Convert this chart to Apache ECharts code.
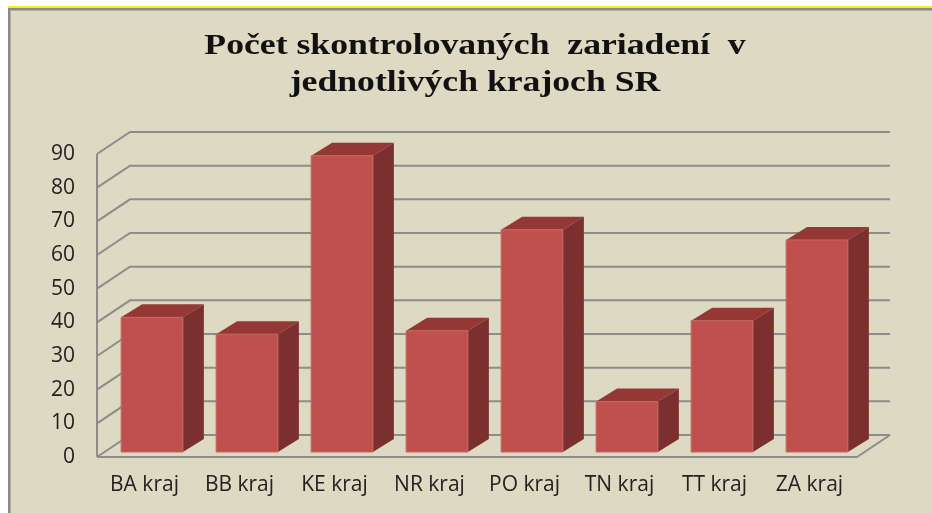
<!DOCTYPE html>
<html>
<head>
<meta charset="utf-8">
<script src="https://cdn.jsdelivr.net/npm/echarts@6/dist/echarts.min.js"></script>
<style>
    html, body { margin: 0; padding: 0; background: #fff; }
    #chart { width: 932px; height: 513px; }
</style>
</head>
<body>
<div id="chart"></div>
<script>
var categories = ['BA kraj', 'BB kraj', 'KE kraj', 'NR kraj', 'PO kraj', 'TN kraj', 'TT kraj', 'ZA kraj'];
var values = [40, 35, 88, 36, 66, 15, 39, 63];
var yTicks = [0, 10, 20, 30, 40, 50, 60, 70, 80, 90];
var titleText = 'Počet skontrolovaných  zariadení  v\njednotlivých krajoch SR';

// hlbka 3D steny a stlpcov (px)
var WALL_DX = 33, WALL_DY = -22;
var BAR_OX = 7.5, BAR_OY = -5;
var BAR_DX = 21, BAR_DY = -13;
var gridColor = '#8c8c8c';

var myChart = echarts.init(document.getElementById('chart'));

function renderWalls(params, api) {
    var cs = params.coordSys;
    var v = api.value(0);
    var p = api.coord([0, v]);
    var x0 = cs.x, x1 = cs.x + cs.width, y = p[1];
    var style = { stroke: gridColor, lineWidth: 2, fill: null };
    var children = [{
        type: 'polyline',
        shape: { points: [[x0, y], [x0 + WALL_DX, y + WALL_DY], [x1 + WALL_DX, y + WALL_DY]] },
        style: style
    }];
    if (v === yTicks[0]) {
        children.push({
            type: 'polyline',
            shape: { points: [[x0, y], [x1, y], [x1 + WALL_DX, y + WALL_DY]] },
            style: style
        });
        var top = api.coord([0, yTicks[yTicks.length - 1]]);
        children.push({
            type: 'line',
            shape: { x1: x0, y1: y, x2: x0, y2: top[1] },
            style: style
        });
    }
    return { type: 'group', children: children };
}

function renderBar(params, api) {
    var idx = api.value(0);
    var base = api.coord([idx, 0]);
    var top = api.coord([idx, api.value(1)]);
    var bw = api.size([1, 0])[0] * 0.65;
    var fx = base[0] - bw / 2 + BAR_OX;
    var fy = top[1] + BAR_OY;
    var by = base[1] + BAR_OY;
    return {
        type: 'group',
        children: [{
            type: 'polygon',
            shape: { points: [[fx + bw, fy], [fx + bw + BAR_DX, fy + BAR_DY], [fx + bw + BAR_DX, by + BAR_DY], [fx + bw, by]] },
            style: { fill: '#7b2f2e' }
        }, {
            type: 'polygon',
            shape: { points: [[fx, fy], [fx + BAR_DX, fy + BAR_DY], [fx + bw + BAR_DX, fy + BAR_DY], [fx + bw, fy]] },
            style: { fill: '#943735' }
        }, {
            type: 'rect',
            shape: { x: fx, y: fy, width: bw, height: by - fy },
            style: { fill: '#c0504d', stroke: '#c86662', lineWidth: 1 }
        }]
    };
}

var option = {
    backgroundColor: '#ffffff',
    animation: false,
    graphic: [
        { type: 'rect', z: -10, shape: { x: 8, y: 7, width: 924, height: 506 }, style: { fill: '#ddd9c3' } },
        { type: 'rect', z: -9, shape: { x: 8, y: 6, width: 924, height: 1.5 }, style: { fill: '#f2ee1a' } },
        { type: 'rect', z: -9, shape: { x: 8, y: 8, width: 924, height: 2.5 }, style: { fill: '#8a8a8a' } },
        { type: 'rect', z: -9, shape: { x: 8, y: 8, width: 2.5, height: 505 }, style: { fill: '#8a8a8a' } },
        {
            // nadpis je v originali roztiahnuty do sirky
            type: 'text',
            x: 475,
            y: 28,
            scaleX: 1.23,
            style: {
                text: titleText,
                textAlign: 'center',
                textVerticalAlign: 'top',
                fontFamily: 'Liberation Serif',
                fontWeight: 'bold',
                fontSize: 29,
                lineHeight: 37,
                fill: '#111'
            }
        }
    ],
    grid: {
        left: 97,
        right: 75,
        top: 154,
        bottom: 56
    },
    xAxis: {
        type: 'category',
        data: categories,
        axisLine: { show: false },
        axisTick: { show: false },
        axisLabel: {
            margin: 18,
            fontFamily: 'Open Sans',
            fontSize: 21,
            color: '#222'
        }
    },
    yAxis: {
        type: 'value',
        min: 0,
        max: 90,
        interval: 10,
        axisLine: { show: false },
        axisTick: { show: false },
        splitLine: { show: false },
        axisLabel: {
            margin: 22,
            fontFamily: 'Open Sans',
            fontSize: 21,
            color: '#222'
        }
    },
    series: [{
        type: 'custom',
        name: 'walls',
        renderItem: renderWalls,
        data: yTicks.map(function (t) { return [t]; }),
        encode: { y: 0 },
        silent: true,
        z: 1
    }, {
        type: 'custom',
        name: 'Počet',
        renderItem: renderBar,
        data: values.map(function (v, i) { return [i, v]; }),
        encode: { x: 0, y: 1 },
        z: 2
    }]
};

myChart.setOption(option);
</script>
</body>
</html>
